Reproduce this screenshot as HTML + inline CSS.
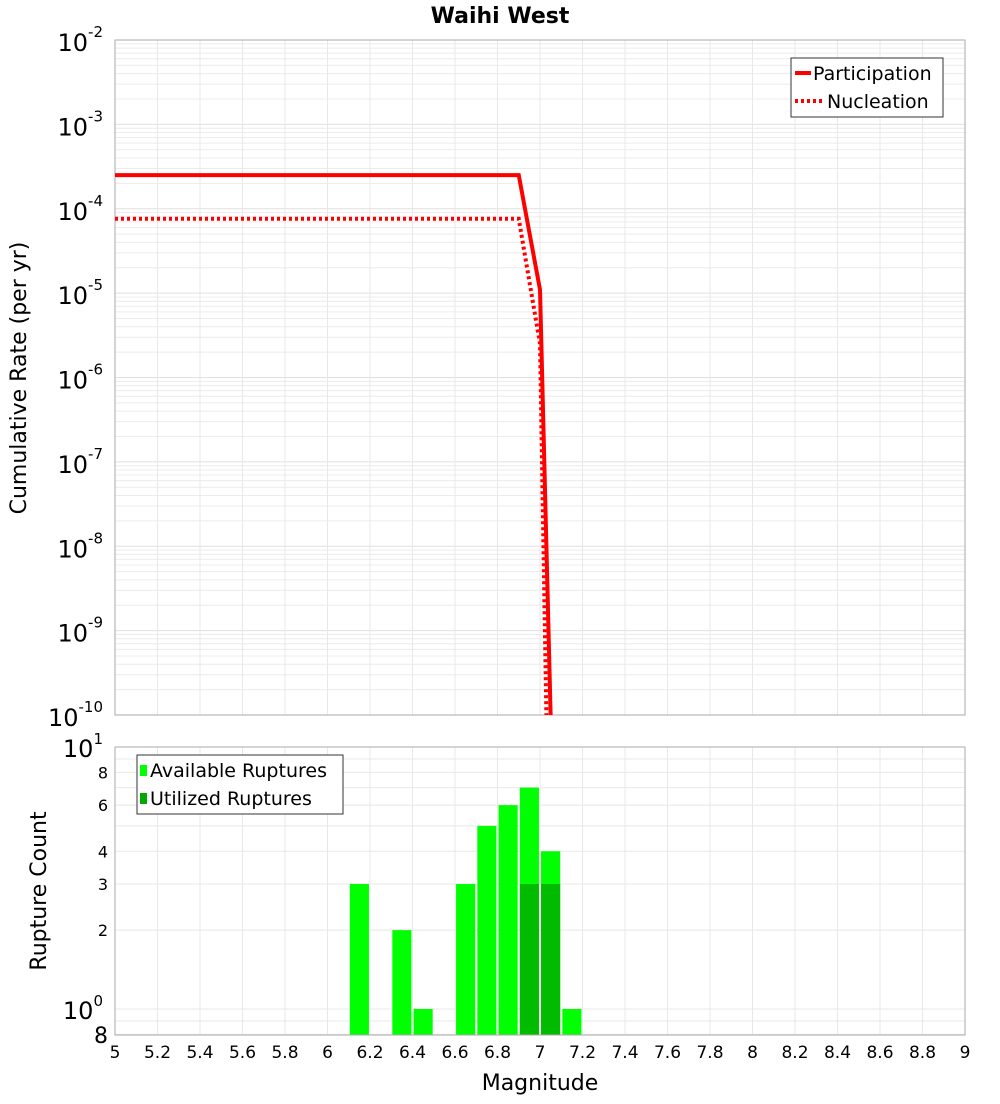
<!DOCTYPE html>
<html><head><meta charset="utf-8"><style>
body{margin:0;background:#fff;font-family:"DejaVu Sans","Liberation Sans",sans-serif}
svg text{font-family:"DejaVu Sans","Liberation Sans",sans-serif}
</style></head><body>
<svg id="c" width="1000" height="1100" xmlns="http://www.w3.org/2000/svg">
<text x="500" y="23" text-anchor="middle" font-size="22" font-weight="bold">Waihi West</text>
<g id="topg"></g>
<g id="botg"></g>
<text transform="translate(26,378) rotate(-90)" text-anchor="middle" font-size="22">Cumulative Rate (per yr)</text>
<text transform="translate(46,891) rotate(-90)" text-anchor="middle" font-size="22">Rupture Count</text>
<text x="540" y="1090" text-anchor="middle" font-size="22">Magnitude</text>
</svg>
<script>
const xTicks=[5,5.2,5.4,5.6,5.8,6,6.2,6.4,6.6,6.8,7,7.2,7.4,7.6,7.8,8,8.2,8.4,8.6,8.8,9];
const partM=[5,6.9,7.0,7.05];
const partRate=[2.5e-4,2.5e-4,1.1e-5,1e-10];
const nuclM=[5,6.9,7.0,7.03];
const nuclRate=[7.6e-5,7.6e-5,2.5e-6,1e-10];
const binCenters=[6.15,6.35,6.45,6.65,6.75,6.85,6.95,7.05,7.15];
const available=[3,2,1,3,5,6,7,4,1];
const utilized=[0,0,0,0,0,0,3,3,0];
const rateExps=[-2,-3,-4,-5,-6,-7,-8,-9,-10];
const countTicks=[8,6,4,3,2];

const NS='http://www.w3.org/2000/svg';
const L=115,R=965;
const X=m=>L+(m-5)/4*(R-L);
const T0=40,T1=715;
const YT=v=>T0+(-2-Math.log10(v))/8*(T1-T0);
const B0=747,B1=1035;
const YB=v=>1009-Math.log10(v)*262;
function el(p,t,a,txt){const e=document.createElementNS(NS,t);for(const k in a)e.setAttribute(k,a[k]);if(txt!==undefined)e.textContent=txt;p.appendChild(e);return e;}
const topG=document.getElementById('topg'),botG=document.getElementById('botg');
for(let d=-10;d<-2;d++)for(let k=1;k<10;k++){const y=YT(k*Math.pow(10,d));
 const g=el(topG,'line',{x1:L,x2:R,y1:y,y2:y,stroke:k==1?'#e0e0e0':'#ececec','stroke-width':1});
 
 }
xTicks.forEach(m=>{const g=el(topG,'line',{x1:X(m),x2:X(m),y1:T0,y2:T1,stroke:'#e8e8e8'});
 
 
 const h=el(botG,'line',{x1:X(m),x2:X(m),y1:B0,y2:B1,stroke:'#e8e8e8'});
 
 });
const f1=el(topG,'rect',{x:L,y:T0,width:R-L,height:T1-T0,fill:'none',stroke:'#aaa'});


rateExps.forEach(e=>{const y=YT(Math.pow(10,e));
 const t=el(topG,'text',{x:103,y:y+11,'text-anchor':'end','font-size':24});
 
 
 t.textContent='10';el(t,'tspan',{dy:-14,'font-size':15},String(e));});
function line(p,ms,vs,dash,name){const pts=ms.map((m,i)=>X(m)+','+YT(vs[i])).join(' ');
 const a={points:pts,fill:'none',stroke:'#ff0000','stroke-width':4};if(dash)a['stroke-dasharray']='3,3';
 const e=el(p,'polyline',a);
 
 }
const clip=el(topG,'clipPath',{id:'cp'});el(clip,'rect',{x:L,y:T0,width:R-L,height:T1-T0+2});
const lg=el(topG,'g',{'clip-path':'url(#cp)'});
line(lg,nuclM,nuclRate,true,'nucleation-line');
line(lg,partM,partRate,false,'participation-line');
const leg=el(topG,'g',{});


el(leg,'rect',{x:791,y:58,width:152,height:59,fill:'#fff',stroke:'#333'});
el(leg,'line',{x1:795,x2:811,y1:73,y2:73,stroke:'#f00','stroke-width':4});
el(leg,'text',{x:813,y:80,'font-size':19},'Participation');
el(leg,'line',{x1:795,x2:822,y1:101,y2:101,stroke:'#f00','stroke-width':4,'stroke-dasharray':'3,3'});
el(leg,'text',{x:827,y:108,'font-size':19},'Nucleation');
[0.8,0.9,1,2,3,4,5,6,7,8,9,10].forEach(v=>{const y=YB(v);
 const g=el(botG,'line',{x1:L,x2:R,y1:y,y2:y,stroke:'#e8e8e8'});
 
 });
const bw=(X(5.1)-X(5))*0.9;
binCenters.forEach((m,i)=>{const y=YB(available[i]);
 const b=el(botG,'rect',{x:X(m)-bw/2,y:y,width:bw,height:B1-y,fill:'#00ff00'});
 
 
 if(utilized[i]>0){const yu=YB(utilized[i]);
  const u=el(botG,'rect',{x:X(m)-bw/2,y:yu,width:bw,height:B1-yu,fill:'#00bb00'});
  
  }});
const f2=el(botG,'rect',{x:L,y:B0,width:R-L,height:B1-B0,fill:'none',stroke:'#aaa'});


countTicks.forEach(v=>{const t=el(botG,'text',{x:108,y:YB(v)+6,'text-anchor':'end','font-size':16},String(v));
 
 });
[[10,'1'],[1,'0']].forEach(([v,e])=>{const t=el(botG,'text',{x:103,y:YB(v)+10,'text-anchor':'end','font-size':24},'10');
 
 
 el(t,'tspan',{dy:-13,'font-size':15},e);});
const t8=el(botG,'text',{x:108,y:1043,'text-anchor':'end','font-size':22},'8');


xTicks.forEach(m=>{const t=el(botG,'text',{x:X(m),y:1058,'text-anchor':'middle','font-size':17},String(m));
 
 });
const lb=el(botG,'g',{});


el(lb,'rect',{x:137,y:755,width:206,height:59,fill:'#fff',stroke:'#333'});
el(lb,'rect',{x:140,y:765,width:7,height:11,fill:'#00ff00'});
el(lb,'text',{x:150,y:777,'font-size':19},'Available Ruptures');
el(lb,'rect',{x:140,y:793,width:7,height:11,fill:'#00aa00'});
el(lb,'text',{x:150,y:805,'font-size':19},'Utilized Ruptures');
</script>
</body></html>
